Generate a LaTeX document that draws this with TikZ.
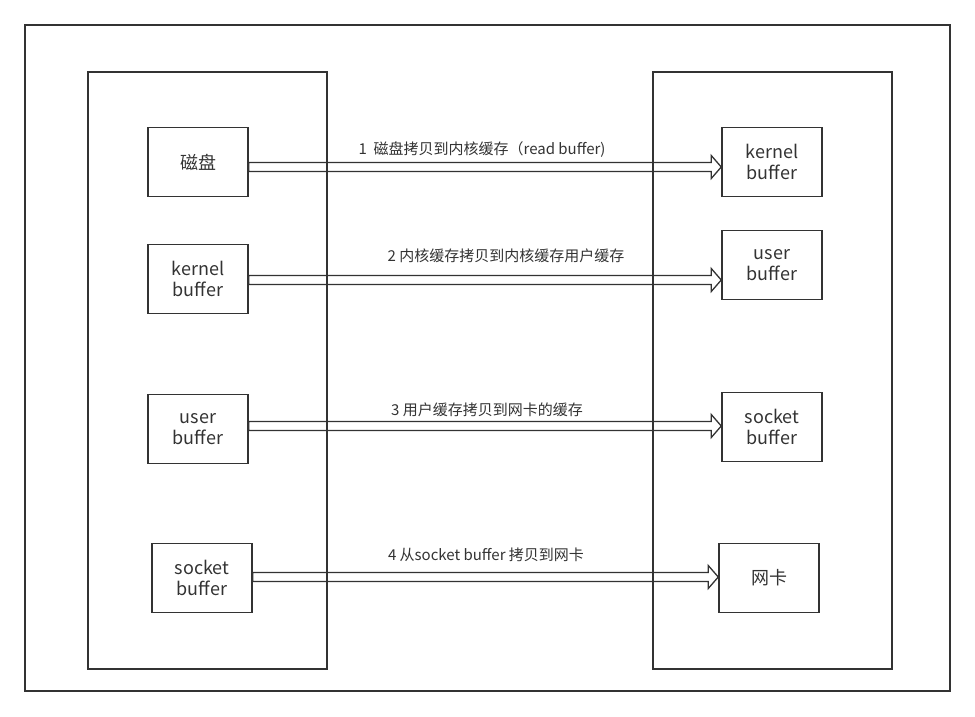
\documentclass[tikz,border=0pt]{standalone}
\usepackage{fontspec}
\setmainfont{Noto Sans CJK SC}
\usetikzlibrary{calc}
\definecolor{ink}{HTML}{333333}
\tikzset{
  box/.style={draw=ink, line width=1.5pt, minimum width=100pt, minimum height=69pt,
    inner sep=0pt, align=center, text=ink, font=\fontsize{18}{21}\selectfont},
  panel/.style={draw=ink, line width=2pt},
  flow/.style={draw=ink, line width=1.3pt, line join=miter},
  note/.style={text=ink, font=\fontsize{15}{18}\selectfont}
}
\newcommand{\flowarrow}[2]{%
  \draw[flow] ($(#1)+(0,-4.5)$) -- ($(#2)+(-10,-4.5)$) -- ($(#2)+(-10,-11.5)$)
    -- (#2) -- ($(#2)+(-10,11.5)$) -- ($(#2)+(-10,4.5)$) -- ($(#1)+(0,4.5)$) -- cycle;}

\begin{document}
\begin{tikzpicture}[x=1pt, y=-1pt]
 \useasboundingbox (0,0) rectangle (975,716);
 \draw[panel] (25,25) rectangle (950,691);
 \draw[panel] (88,72) rectangle (327,669);
 \draw[panel] (653,72) rectangle (892,669);

 \node[box] (l1) at (198,162) {磁盘};
 \node[box] (l2) at (198,279) {kernel\\buffer};
 \node[box] (l3) at (198,429) {user\\buffer};
 \node[box] (l4) at (202,578) {socket\\buffer};

 \node[box] (r1) at (772,162) {kernel\\buffer};
 \node[box] (r2) at (772,265) {user\\buffer};
 \node[box] (r3) at (772,427) {socket\\buffer};
 \node[box] (r4) at (769,578) {网卡};

 \foreach \i/\dy in {1/5, 2/1, 3/-3, 4/-1}
  {
    \coordinate (s\i) at ($(l\i.east)+(0,\dy)$);
    \coordinate (e\i) at (r\i.west |- s\i);
    \flowarrow{s\i}{e\i}
  }

 \foreach \i/\x/\y/\t in
  {
    1/482/150/{1~~磁盘拷贝到内核缓存（read buffer)},
    2/506/256/{2 内核缓存拷贝到内核缓存用户缓存},
    3/487/410/{3 用户缓存拷贝到网卡的缓存},
    4/486/555/{4 从socket buffer 拷贝到网卡}
  }
  {
    \node[note] (m\i) at (\x,\y) {\t};
  }
\end{tikzpicture}
\end{document}
